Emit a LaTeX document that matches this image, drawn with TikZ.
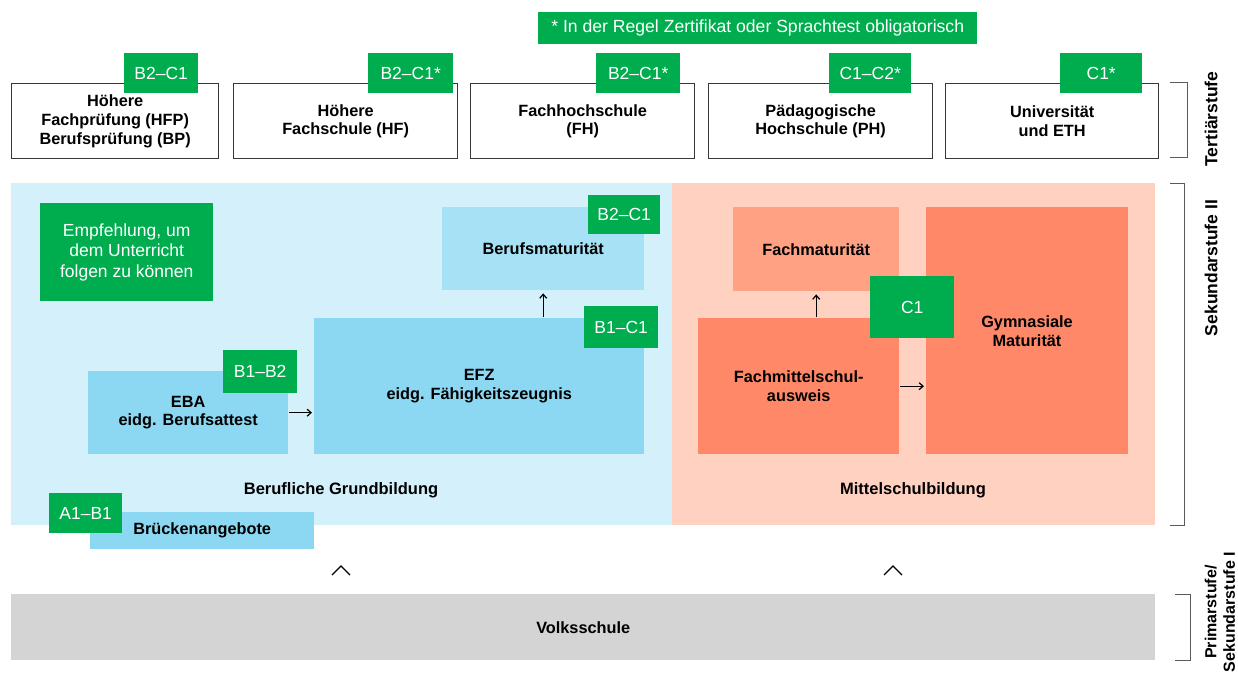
\documentclass[tikz,border=0pt]{standalone}
\usepackage{fontspec}
\setmainfont{Liberation Sans}
\usetikzlibrary{arrows.meta}
\definecolor{kgreen}{RGB}{0,173,78}
\definecolor{tborder}{RGB}{55,55,55}
\definecolor{regblue}{RGB}{212,240,251}
\definecolor{bmblue}{RGB}{166,225,245}
\definecolor{efzblue}{RGB}{140,216,242}
\definecolor{regsalmon}{RGB}{255,209,192}
\definecolor{fmsalmon}{RGB}{255,162,131}
\definecolor{gymsalmon}{RGB}{255,136,104}
\definecolor{vsgray}{RGB}{212,212,212}
\definecolor{brgray}{RGB}{90,90,90}
\begin{document}
\begin{tikzpicture}[x=1pt,y=-1pt,
  tbox/.style={draw=tborder, line width=1.3pt, fill=white, minimum height=75pt, anchor=north west, align=center, inner sep=0pt, font=\bfseries\fontsize{16.3}{18.7}\selectfont},
  fbox/.style={anchor=north west, align=center, inner sep=0pt, font=\bfseries\fontsize{16.3}{18.7}\selectfont},
  lbl/.style={fill=kgreen, text=white, anchor=north west, inner sep=0pt, font=\fontsize{17.5}{20}\selectfont},
  reglabel/.style={font=\bfseries\fontsize{16.5}{18}\selectfont},
  sidelabel/.style={rotate=90, align=center, font=\bfseries\fontsize{17.5}{19.5}\selectfont},
  arr/.style={-{Straight Barb[length=4pt,width=7pt]}, line width=1.2pt},
  brk/.style={draw=brgray, line width=1pt}
]
\useasboundingbox (0,0) rectangle (1238,679);

% note
\node[lbl, minimum width=439pt, minimum height=32pt, font=\fontsize{17.6}{19}\selectfont] (note) at (538,12) {* In der Regel Zertifikat oder Sprachtest obligatorisch};

% tertiary boxes
\node[tbox, minimum width=207pt] (hfp) at (11,83) {Höhere\\Fachprüfung (HFP)\\Berufsprüfung (BP)};
\node[tbox, minimum width=224pt] (hf) at (233,83) {Höhere\\Fachschule (HF)};
\node[tbox, minimum width=224pt] (fh) at (470,83) {Fachhochschule\\(FH)};
\node[tbox, minimum width=224pt] (ph) at (708,83) {Pädagogische\\Hochschule (PH)};
\node[tbox, minimum width=213pt] (uni) at (945,83) {Universität\\und ETH};

\node[lbl, minimum width=74pt, minimum height=40pt] (lhfp) at (124,53) {B2–C1};
\node[lbl, minimum width=85pt, minimum height=40pt] (lhf) at (368,53) {B2–C1*};
\node[lbl, minimum width=84pt, minimum height=40pt] (lfh) at (596,53) {B2–C1*};
\node[lbl, minimum width=82pt, minimum height=40pt] (lph) at (829,53) {C1–C2*};
\node[lbl, minimum width=82pt, minimum height=40pt] (luni) at (1060,53) {C1*};

% regions
\node[fbox, fill=regblue, minimum width=661pt, minimum height=342pt] (regb) at (11,183) {};
\node[fbox, fill=regsalmon, minimum width=483pt, minimum height=342pt] (regs) at (672,183) {};

\node[reglabel] (bgb) at (341,490) {Berufliche Grundbildung};
\node[reglabel] (msb) at (913,490) {Mittelschulbildung};

% recommendation box
\node[lbl, minimum width=173pt, minimum height=98pt, align=center, font=\fontsize{17.5}{20.5}\selectfont] (emp) at (40,203) {Empfehlung, um\\dem Unterricht\\folgen zu können};

% blue boxes
\node[fbox, fill=bmblue, minimum width=202pt, minimum height=83pt] (bm) at (442,207) {Berufsmaturität};
\node[fbox, fill=efzblue, minimum width=330pt, minimum height=136pt] (efz) at (314,318) {EFZ\\eidg. Fähigkeitszeugnis};
\node[fbox, fill=efzblue, minimum width=200pt, minimum height=83pt] (eba) at (88,371) {EBA\\eidg. Berufsattest};
\node[fbox, fill=efzblue, minimum width=224pt, minimum height=37pt] (bru) at (90,512) {Brückenangebote};

% salmon boxes
\node[fbox, fill=fmsalmon, minimum width=166pt, minimum height=84pt] (fm) at (733,207) {Fachmaturität};
\node[fbox, fill=gymsalmon, minimum width=201pt, minimum height=136pt] (fms) at (698,318) {Fachmittelschul-\\ausweis};
\node[fbox, fill=gymsalmon, minimum width=202pt, minimum height=247pt] (gym) at (926,207) {};
\node[align=center, font=\bfseries\fontsize{16.3}{18.7}\selectfont] (gymt) at (1027,331) {Gymnasiale\\Maturität};

% labels in secondary level
\node[lbl, minimum width=72pt, minimum height=39pt] (lbm) at (588,195) {B2–C1};
\node[lbl, minimum width=74pt, minimum height=42pt] (lefz) at (584,306) {B1–C1};
\node[lbl, minimum width=74pt, minimum height=43pt] (leba) at (223,350) {B1–B2};
\node[lbl, minimum width=73pt, minimum height=40pt] (lbru) at (49,493) {A1–B1};
\node[lbl, minimum width=84pt, minimum height=62pt] (lgym) at (870,276) {C1};

% arrows
\draw[arr] (eba.east) ++(1,0) -- ([xshift=-2pt]efz.west |- eba.east);
\draw[arr] (bm.south |- efz.north) ++(0,-1) -- ([yshift=-3pt]bm.south);
\draw[arr] (fm.south |- fms.north) ++(0,-1) -- ([yshift=-3pt]fm.south);
\draw[arr] (fms.east) ++(1,0) -- ([xshift=-2pt]gym.west |- fms.east);

% primary school
\node[fbox, fill=vsgray, minimum width=1144pt, minimum height=66pt] (vs) at (11,594) {Volksschule};

% chevrons
\coordinate (ch1) at (341,570);
\coordinate (ch2) at (893,570);
\draw[line width=1.2pt] ([shift={(-9,5)}]ch1) -- ([shift={(0,-4)}]ch1) -- ([shift={(9,5)}]ch1);
\draw[line width=1.2pt] ([shift={(-9,5)}]ch2) -- ([shift={(0,-4)}]ch2) -- ([shift={(9,5)}]ch2);

% side brackets
\draw[brk] (1170,83) -- (1187,83) -- (1187,158) -- (1170,158);
\draw[brk] (1170,183) -- (1184,183) -- (1184,525) -- (1170,525);
\draw[brk] (1175,594) -- (1190,594) -- (1190,660) -- (1175,660);

\node[sidelabel] (tert) at (1211,119) {Tertiärstufe};
\node[sidelabel] (sek2) at (1211,268) {Sekundarstufe II};
\node[sidelabel, font=\bfseries\fontsize{16}{18.5}\selectfont] (prim) at (1220,612) {Primarstufe/\\Sekundarstufe I};
\end{tikzpicture}
\end{document}
